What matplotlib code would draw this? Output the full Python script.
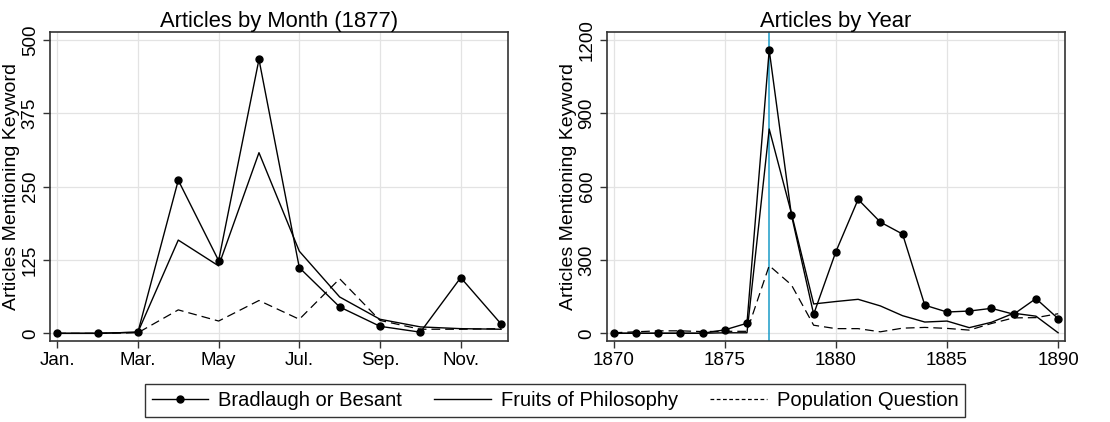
import numpy as np
import matplotlib.pyplot as plt

plt.rcParams['font.family'] = ['Liberation Sans', 'DejaVu Sans']

# Monthly data, 1877
months = [1, 2, 3, 4, 5, 6, 7, 8, 9, 10, 11, 12]
month_ticks = [1, 3, 5, 7, 9, 11]
month_labels = ["Jan.", "Mar.", "May", "Jul.", "Sep.", "Nov."]
m_bradlaugh = [0, 0, 2, 261, 124, 467, 112, 45, 12, 2, 95, 16]
m_fruits = [0, 0, 2, 159, 115, 308, 140, 62, 24, 11, 8, 7]
m_population = [0, 0, 1, 40, 21, 56, 24, 93, 22, 7, 7, 8]

# Yearly data
years = list(range(1870, 1891))
y_bradlaugh = [0, 0, 0, 0, 0, 14, 41, 1159, 484, 78, 334, 548, 455, 406,
               115, 87, 91, 102, 78, 142, 60]
y_fruits = [0, 0, 0, 0, 0, 2, 2, 836, 491, 120, 130, 139, 112, 72,
            46, 50, 23, 45, 82, 70, 2]
y_population = [2, 6, 10, 10, 7, 8, 8, 277, 198, 33, 19, 19, 6, 21,
                24, 20, 13, 40, 63, 64, 80]

fig = plt.figure(figsize=(11.1, 4.22), dpi=100)
ax1 = fig.add_axes([0.045, 0.192, 0.4126, 0.732])
ax2 = fig.add_axes([0.5466, 0.192, 0.4129, 0.732])

dash = (0, (7, 4))


def style_axes(ax):
    ax.grid(True, color="#e3e3e3", linewidth=0.9)
    ax.set_axisbelow(True)
    for s in ax.spines.values():
        s.set_color("#333333")
        s.set_linewidth(1.2)
    ax.tick_params(axis="both", direction="out", length=5, width=1,
                   color="#333333", labelsize=13.5, pad=3)
    for lab in ax.get_yticklabels():
        lab.set_rotation(90)
        lab.set_va("center")
    ax.set_ylabel("Articles Mentioning Keyword", fontsize=14, labelpad=1)


# Left panel
ax1.plot(months, m_bradlaugh, color="black", lw=1, marker="o", ms=5)
ax1.plot(months, m_fruits, color="black", lw=1)
ax1.plot(months, m_population, color="black", lw=0.9, linestyle=dash)
ax1.set_xlim(0.82, 12.17)
ax1.set_ylim(-13, 513.6)
ax1.set_yticks([0, 125, 250, 375, 500])
ax1.set_xticks(month_ticks)
ax1.set_xticklabels(month_labels)
ax1.set_title("Articles by Month (1877)", fontsize=15.8, pad=3)
style_axes(ax1)

# Right panel
ax2.axvline(1877, color="#1a9bc8", lw=1.1, zorder=1)
l1, = ax2.plot(years, y_bradlaugh, color="black", lw=1, marker="o", ms=5)
l2, = ax2.plot(years, y_fruits, color="black", lw=1)
l3, = ax2.plot(years, y_population, color="black", lw=0.9, linestyle=dash)
ax2.set_xlim(1869.69, 1890.31)
ax2.set_ylim(-31.5, 1232.7)
ax2.set_yticks([0, 300, 600, 900, 1200])
ax2.set_xticks([1870, 1875, 1880, 1885, 1890])
ax2.set_title("Articles by Year", fontsize=15.8, pad=3)
style_axes(ax2)

leg_dash, = ax2.plot([], [], color="black", lw=0.9, linestyle=(0, (3, 2)))
leg = fig.legend([l1, l2, leg_dash],
                 ["Bradlaugh or Besant", "Fruits of Philosophy", "Population Question"],
                 loc="center", bbox_to_anchor=(0.5, 0.052), ncol=3,
                 fontsize=14.5, frameon=True, fancybox=False, edgecolor="black",
                 handlelength=2.8, columnspacing=1.6, borderpad=0.35,
                 handletextpad=0.5)
leg.get_frame().set_linewidth(1.0)

fig.savefig("out.png", dpi=100)
